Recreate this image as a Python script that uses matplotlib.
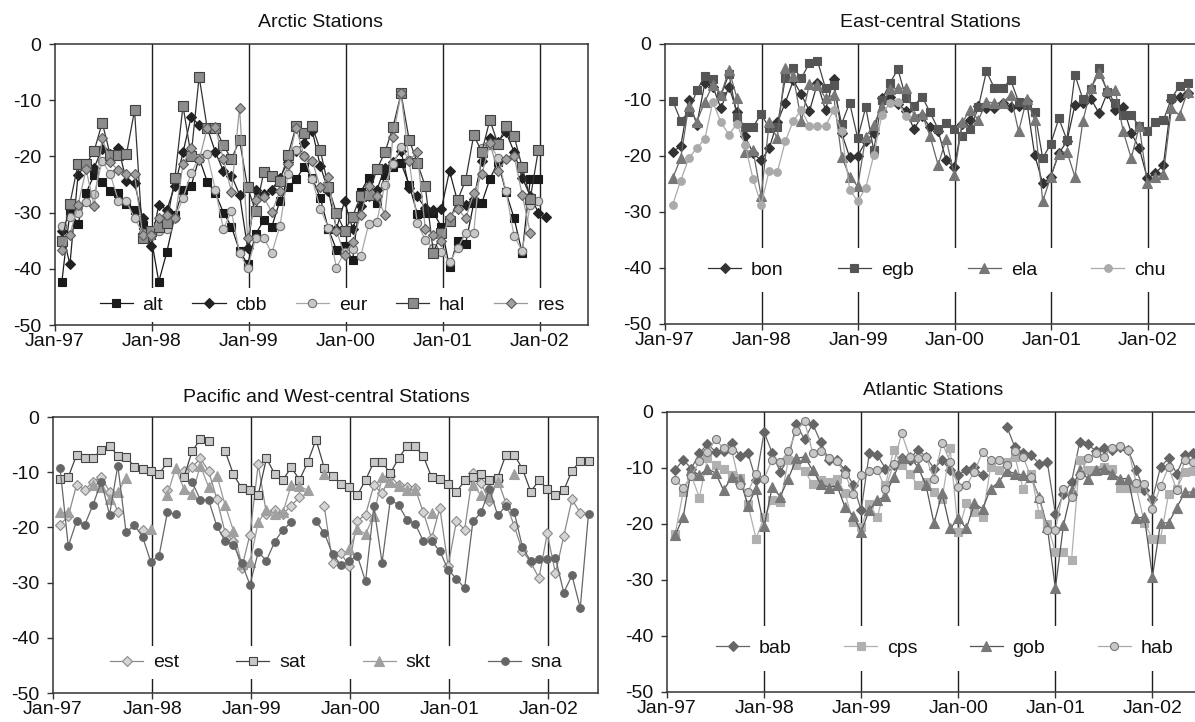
import matplotlib
matplotlib.use('Agg')
import matplotlib.pyplot as plt
import numpy as np

plt.rcParams['font.family'] = ['Liberation Sans', 'DejaVu Sans']

# ---- data (monthly values, first point ~ Feb-97) ----
year_labels = ['Jan-97', 'Jan-98', 'Jan-99', 'Jan-00', 'Jan-01', 'Jan-02']
year_months = [0, 12, 24, 36, 48, 60]
y_ticks = [0, -10, -20, -30, -40, -50]

# Arctic
alt = [-42.3, -29.8, -32.0, -26.5, -23.3, -24.5, -26.2, -26.5, -28.5, -29.5, -32.2, -34.0,
       -42.3, -37.0, -30.5, -25.9, -25.3, -20.3, -24.5, -26.5, -30.0, -32.5, -36.8, -39.2,
       -33.8, -31.4, -32.5, -27.9, -25.5, -24.1, -21.8, -23.8, -27.4, -32.9, -36.6, -36.0,
       -38.5, -26.3, -23.8, -28.3, -23.3, -21.8, -21.2, -25.0, -30.2, -30.0, -30.0, -32.5,
       -39.7, -35.0, -35.5, -28.3, -28.3, -24.0, -21.0, -26.4, -31.0, -37.2, -24.1, -24.1]
cbb = [-33.3, -39.2, -23.3, -21.3, -22.0, -18.6, -19.5, -18.5, -24.4, -24.7, -31.0, -35.9,
       -28.6, -29.5, -25.2, -19.3, -13.0, -14.4, -14.9, -19.2, -22.6, -23.4, -26.8, -36.3,
       -25.9, -26.7, -25.9, -23.8, -21.0, -19.0, -17.6, -15.4, -21.7, -26.1, -32.9, -28.0,
       -32.9, -28.9, -27.0, -26.0, -22.0, -21.0, -19.0, -25.6, -27.1, -29.2, -29.6, -29.3,
       -22.6, -28.0, -28.6, -27.5, -20.8, -16.8, -17.4, -15.7, -19.2, -23.8, -27.0, -30.0, -30.8]
eur = [-32.4, -30.8, -30.0, -28.1, -26.7, -20.8, -23.2, -27.9, -28.0, -31.0, -33.6, -34.2,
       -33.3, -32.9, -31.0, -27.4, -23.0, -20.2, -19.6, -25.9, -32.9, -29.8, -37.2, -39.9,
       -34.5, -34.5, -37.2, -32.4, -23.2, -18.8, -20.0, -24.1, -29.3, -32.7, -39.8, -37.0,
       -36.5, -37.8, -32.0, -31.6, -25.0, -21.4, -18.3, -20.6, -31.8, -34.9, -36.3, -37.0,
       -38.8, -36.3, -33.7, -33.6, -18.5, -17.9, -20.2, -26.2, -34.2, -36.8, -28.6, -28.0]
hal = [-35.0, -28.4, -21.4, -21.4, -19.0, -14.0, -19.8, -19.8, -19.6, -11.8, -34.5, -33.2,
       -32.5, -31.8, -23.8, -11.0, -19.9, -5.8, -15.0, -14.9, -18.0, -20.5, -17.1, -25.5,
       -29.8, -22.8, -23.4, -24.4, -19.8, -14.6, -15.8, -14.6, -18.9, -25.4, -30.1, -33.2,
       -30.7, -27.0, -26.9, -22.3, -19.3, -14.8, -8.8, -17.0, -21.1, -25.3, -37.1, -33.7,
       -31.5, -27.8, -24.2, -16.2, -19.2, -13.5, -17.8, -14.6, -16.4, -21.9, -27.5, -18.9]
res = [-36.6, -33.9, -28.7, -22.3, -28.9, -16.8, -21.0, -22.5, -23.2, -23.2, -33.9, -33.9,
       -31.0, -30.4, -31.0, -21.4, -18.5, -20.7, -14.9, -14.8, -20.5, -26.3, -11.3, -34.6,
       -27.7, -27.3, -29.9, -26.2, -21.3, -14.9, -19.9, -20.8, -25.5, -23.7, -33.2, -37.5,
       -35.3, -30.4, -25.3, -27.1, -30.4, -16.5, -8.8, -20.8, -19.2, -32.9, -33.9, -35.1,
       -30.7, -29.3, -31.0, -26.6, -23.2, -17.7, -22.6, -20.5, -19.9, -26.8, -33.6]

# East-central
bon = [-19.2, -18.3, -10.0, -14.4, -7.0, -7.6, -11.5, -7.6, -12.1, -16.5, -19.5, -20.8,
       -18.6, -14.0, -10.5, -6.5, -9.0, -12.0, -7.0, -11.8, -6.3, -15.9, -20.2, -20.0,
       -17.4, -15.9, -9.7, -9.4, -10.7, -11.9, -15.2, -12.8, -14.9, -15.5, -20.8, -22.0,
       -14.3, -13.6, -11.1, -11.5, -11.5, -10.6, -11.2, -11.0, -10.2, -19.8, -24.9, -23.7,
       -19.5, -17.4, -10.9, -10.5, -9.8, -12.4, -8.8, -11.7, -11.2, -15.9, -18.6, -24.0,
       -23.1, -21.6, -10.0, -9.4, -8.8]
egb = [-10.1, -13.7, -12.2, -8.3, -5.8, -6.3, -9.2, -5.4, -13.0, -14.8, -14.8, -12.5,
       -15.0, -14.8, -6.1, -4.2, -6.1, -3.4, -3.0, -7.9, -7.3, -14.3, -10.5, -16.8,
       -11.3, -19.0, -10.0, -7.0, -4.5, -9.7, -11.0, -9.4, -12.2, -15.2, -14.1, -15.2,
       -16.4, -15.2, -11.3, -4.9, -7.9, -7.9, -6.4, -10.3, -10.9, -12.1, -20.4, -17.8,
       -13.3, -17.1, -5.5, -9.9, -8.1, -4.2, -8.5, -10.5, -12.7, -12.7, -14.7, -15.6,
       -13.9, -13.6, -9.7, -7.5, -7.0]
ela = [-24.0, -20.4, -11.0, -13.9, -10.3, -7.3, -9.1, -4.6, -9.7, -19.2, -19.0, -27.2,
       -14.0, -16.8, -4.2, -5.8, -13.7, -7.1, -7.3, -9.7, -9.1, -20.1, -23.7, -25.4,
       -16.6, -14.4, -11.2, -8.1, -7.9, -7.9, -12.8, -12.5, -16.5, -21.6, -17.0, -23.4,
       -14.0, -11.7, -13.6, -10.3, -10.6, -10.5, -9.1, -15.6, -9.9, -13.6, -28.1, -23.7,
       -19.6, -19.2, -23.7, -13.7, -7.9, -5.2, -8.2, -8.2, -15.6, -20.4, -14.7, -24.9,
       -23.7, -23.2, -11.5, -12.7, -8.5]
chu = [-28.7, -24.4, -20.4, -18.6, -17.0, -10.3, -14.0, -16.2, -14.2, -18.0, -24.1, -28.7,
       -22.6, -22.9, -17.4, -13.7, -11.8, -14.6, -14.7, -14.7, -11.8, -15.6, -26.0, -28.1,
       -25.7, -19.8, -12.7, -10.5, -10.4, -12.9]

# Pacific and West-central (None = no sample)
est = [-19.5, -18.0, -12.3, -13.2, -11.7, -10.9, -13.5, -17.2, None, None, -20.5, None,
       None, -13.2, None, -9.8, -9.1, -7.5, -9.8, -14.9, -21.0, -22.5, -27.4, -21.3,
       -8.6, -17.5, -16.8, -17.5, -16.1, -14.5, None, None, -16.2, -26.4, -24.6, -27.0,
       -18.8, -17.7, -12.4, -13.8, -10.7, -12.3, -12.6, -12.9, -17.3, -22.0, -16.5, -27.0,
       -18.9, -20.4, -10.1, -12.0, -15.3, -11.4, -15.6, -19.7, -24.3, -26.3, -29.2, -21.1,
       -28.3, -21.6, -14.9, -17.4]
sat = [-11.2, -10.9, -6.9, -7.5, -7.5, -5.9, -5.2, -7.0, -7.2, -9.0, -9.4, -9.8,
       -10.3, -8.2, None, -10.9, -6.2, -4.0, -4.4, None, -6.2, -10.4, -12.9, -13.2,
       -14.1, -7.5, -10.3, -11.4, -9.1, -11.4, -8.2, -4.1, -9.2, -10.7, -12.1, -12.6,
       -14.2, -11.4, -8.2, -8.2, -10.2, -7.5, -5.3, -5.3, -7.1, -10.9, -11.2, -12.1,
       -13.6, -11.5, -10.9, -10.4, -11.5, -11.0, -6.8, -6.8, -9.4, -13.5, -11.5, -13.0,
       -14.1, -13.3, -9.7, -8.0, -8.0]
skt = [-17.3, -17.3, None, None, -12.4, -12.7, -14.8, -13.6, -11.1, None, None, -20.2,
       None, -14.1, -9.2, -13.0, -14.0, -8.8, -12.7, -10.6, -16.0, -20.6, -26.6, -26.3,
       -19.1, -16.8, -17.6, -17.3, -12.3, -12.5, -13.3, None, -10.4, None, None, -24.0,
       -20.3, -21.2, -17.9, -10.9, -11.8, -12.5, -13.3, -13.3, None, -17.4, None, None,
       None, None, -12.3, -14.2, -14.5, -11.8, None, -10.4]
sna = [-9.2, -23.4, -18.9, -19.5, -15.9, -11.7, -17.7, -8.8, -20.9, -19.6, -21.7, -26.3,
       -25.1, -17.3, -17.6, None, -11.8, -15.0, -15.1, -19.8, -22.5, -23.1, -26.4, -30.4,
       -24.5, -26.0, -22.6, -20.4, -19.1, None, None, -18.9, -21.0, -24.8, -26.8, -26.1,
       -25.1, -29.8, -16.2, -26.4, -15.0, -15.9, -18.6, -19.3, -22.5, -22.5, -24.3, -27.7,
       -29.3, -31.0, -18.9, -17.3, -13.0, -17.8, -16.1, -17.2, -23.6, -26.1, -25.8, -25.8,
       -25.5, -31.8, -28.7, -34.6, -17.5]

# Atlantic
bab = [-10.4, -8.5, -10.1, -7.4, -5.7, -7.1, -7.0, -5.5, -7.9, -7.3, -12.2, -3.6,
       -7.3, -10.7, -8.3, -2.1, -4.9, -2.1, -5.4, -8.6, -8.6, -10.4, -13.0, -17.5,
       -7.4, -7.7, -10.1, -9.5, -8.3, -8.5, -6.7, -8.0, -10.1, -8.6, -10.4, -11.3,
       -10.3, -9.8, -11.3, None, None, -2.6, -6.3, -7.3, -7.7, -9.2, -8.9, -18.2,
       -14.6, -12.5, -5.4, -5.7, -7.0, -6.5, -6.8, -6.3, -6.8, -10.4, -14.0, -15.6,
       -9.8, -8.3, -11.0, -7.7, -7.4]
cps = [-21.8, -14.3, -11.3, -15.3, -8.2, -9.5, -10.1, -11.3, -11.7, -16.5, -22.6, -18.8,
       -15.8, -16.1, -8.6, -9.5, -10.5, -12.9, -12.2, -12.5, -11.9, -14.5, -19.6, -20.5,
       -16.5, -18.8, -13.0, -6.8, -9.5, -11.0, -13.1, -12.5, -14.3, -15.5, -6.5, -21.4,
       -16.3, -17.9, -18.8, -9.8, -10.4, -9.0, -8.0, -13.7, -11.0, -18.2, -20.0, -25.0,
       -25.0, -26.4, -8.6, -10.4, -10.4, -9.9, -10.1, -13.5, -13.5, -13.5, -19.8, -22.6,
       -22.6, -14.6, -13.7, -10.7, -10.5]
gob = [-22.0, -18.8, -10.3, -11.3, -10.1, -10.9, -14.0, -11.6, -11.9, -16.7, -13.7, -20.4,
       -13.4, -15.1, -11.9, -8.3, -8.0, -10.4, -12.8, -13.5, -13.1, -17.0, -18.5, -21.4,
       -17.5, -15.8, -15.0, -11.6, -8.3, -8.0, -9.8, -13.0, -19.9, -14.5, -20.8, -19.0,
       -20.8, -16.3, -17.3, -13.7, -12.5, -10.5, -11.0, -11.3, -11.6, -15.2, -20.5, -31.5,
       -20.2, -14.0, -10.4, -11.9, -10.4, -10.1, -11.0, -11.9, -11.9, -19.0, -18.7, -29.4,
       -19.8, -19.8, -17.1, -14.3, -14.3]
hab = [-12.1, -13.5, -11.4, -8.8, -7.1, -4.9, -6.5, -6.8, -13.1, -14.3, -11.1, -11.9,
       -8.5, -8.9, -7.0, -3.4, -1.6, -7.3, -7.0, -8.3, -8.8, -11.0, -14.6, -11.3,
       -10.5, -10.4, -13.7, -9.3, -3.8, -8.0, -8.3, -8.0, -12.0, -5.5, -8.9, -13.4,
       -13.1, -10.7, -7.1, -8.6, -8.6, -9.5, -7.0, -8.0, -11.6, -15.5, -21.0, -21.1,
       -13.8, -15.2, -11.3, -8.3, -7.4, -8.0, -6.4, -6.1, -6.7, -12.7, -12.8, -17.3,
       -13.3, -9.8, -14.0, -8.5, -8.9]

W, H = 1195, 722
FS = 14
fig = plt.figure(figsize=(W / 100, H / 100), dpi=100)


def rect(left, right, top, bottom):
    return [left / W, 1 - bottom / H, (right - left) / W, (bottom - top) / H]


def st(marker, ms, line, face, edge=None):
    return dict(color=line, lw=0.9, marker=marker, ms=ms, mfc=face,
                mec=edge if edge else face, mew=0.8)


def panel(box, title, title_xy, series, offset, leg_xy, colsp, bpad):
    ax = fig.add_axes(box)
    ax.set_xlim(0, 66)
    ax.set_ylim(-50, 0)
    for m in year_months[1:]:
        ax.axvline(m, color='#1e1e1e', lw=1.0, zorder=1)
    for name, vals, style in series:
        y = np.array([np.nan if v is None else v for v in vals], dtype=float)
        x = np.arange(len(y)) + offset
        ax.plot(x, y, label=name, zorder=3, **style)
    ax.set_xticks(year_months)
    ax.set_xticklabels(year_labels)
    ax.set_yticks(y_ticks)
    ax.set_yticklabels([str(t) for t in y_ticks])
    ax.tick_params(labelsize=FS, length=4, width=1, color='#333333',
                   labelcolor='#111111', direction='out')
    ax.tick_params(axis='y', pad=6)
    ax.tick_params(axis='x', pad=2)
    for s in ax.spines.values():
        s.set_color('#333333')
        s.set_linewidth(1.1)
    leg = ax.legend(loc='center', bbox_to_anchor=leg_xy, ncol=len(series),
                    frameon=True, facecolor='white', edgecolor='none',
                    framealpha=1, fancybox=False, borderpad=bpad,
                    handlelength=1.7, handletextpad=0.5,
                    columnspacing=colsp, fontsize=FS, borderaxespad=0)
    leg.set_zorder(5)
    for t in leg.get_texts():
        t.set_color('#111111')
    fig.text(title_xy[0] / W, 1 - title_xy[1] / H, title, ha='center',
             va='baseline', fontsize=FS, color='#111111')
    return ax


panel(rect(55, 588, 44, 325), 'Arctic Stations', (320, 27),
      [('alt', alt, st('s', 6, '#1a1a1a', '#1a1a1a')),
       ('cbb', cbb, st('D', 4.6, '#222222', '#222222')),
       ('eur', eur, st('o', 6, '#a8a8a8', '#c8c8c8', '#707070')),
       ('hal', hal, st('s', 6.5, '#333333', '#8c8c8c', '#404040')),
       ('res', res, st('D', 5.5, '#9a9a9a', '#a0a0a0', '#5a5a5a'))],
      0.85, (0.52, 0.071), 1.5, 0.4)

panel(rect(665, 1196, 44, 324), 'East-central Stations', (930, 27),
      [('bon', bon, st('D', 4.8, '#333333', '#333333')),
       ('egb', egb, st('s', 6, '#444444', '#555555')),
       ('ela', ela, st('^', 6.5, '#666666', '#777777')),
       ('chu', chu, st('o', 5.5, '#aaaaaa', '#aaaaaa'))],
      0.95, (0.512, 0.193), 2.8, 0.7)

panel(rect(53, 598, 417, 693), 'Pacific and West-central Stations', (326, 402),
      [('est', est, st('D', 5.2, '#8a8a8a', '#d4d4d4', '#8a8a8a')),
       ('sat', sat, st('s', 6, '#444444', '#c8c8c8', '#444444')),
       ('skt', skt, st('^', 6.5, '#9a9a9a', '#a0a0a0')),
       ('sna', sna, st('o', 5.5, '#666666', '#666666'))],
      0.85, (0.52, 0.11), 2.95, 0.4)

panel(rect(667, 1201, 412, 692), 'Atlantic Stations', (933, 395),
      [('bab', bab, st('D', 4.8, '#666666', '#666666')),
       ('cps', cps, st('s', 5.8, '#b0b0b0', '#b0b0b0')),
       ('gob', gob, st('^', 6.5, '#555555', '#787878')),
       ('hab', hab, st('o', 5.8, '#aaaaaa', '#c8c8c8', '#777777'))],
      1.0, (0.52, 0.156), 2.7, 0.7)

fig.savefig('out.png', dpi=100, facecolor='white')
